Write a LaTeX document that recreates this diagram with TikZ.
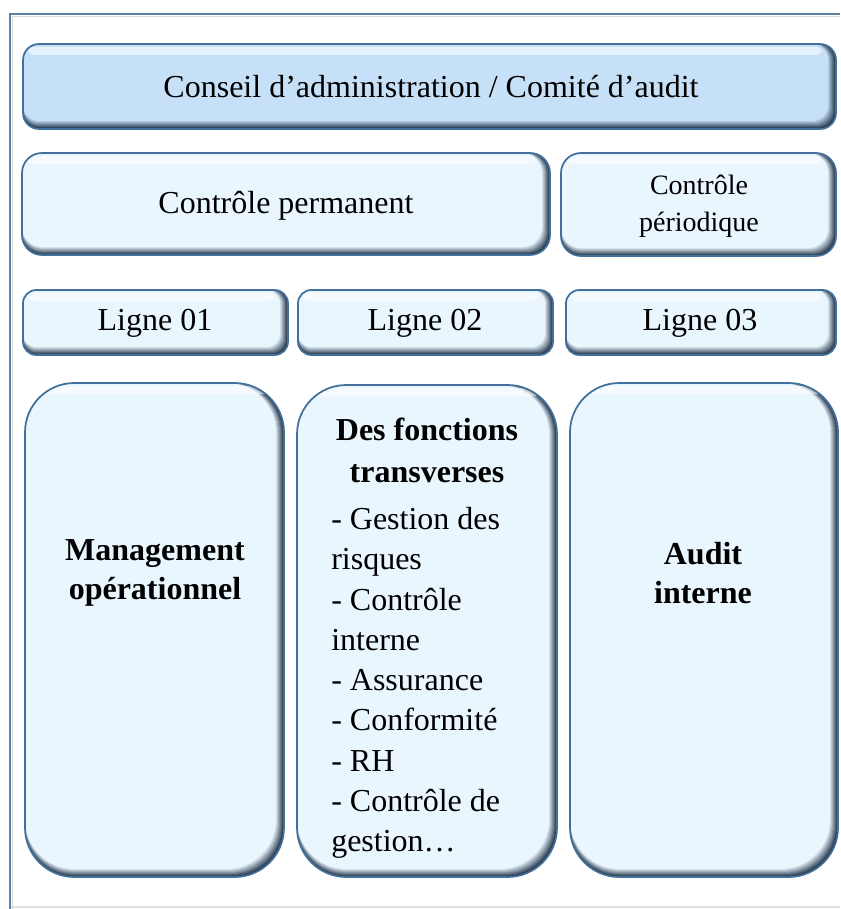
\documentclass[tikz,border=0pt]{standalone}
\usepackage{fontspec}
\setmainfont{Liberation Serif}
\definecolor{edgecol}{HTML}{41709C}
\definecolor{shadowcol}{HTML}{1E3145}
\definecolor{fillpale}{HTML}{EAF6FE}
\definecolor{fillblue}{HTML}{C6E0F8}
\definecolor{framecol}{HTML}{5A82A8}

% bevelled rounded box: x1, y1, x2, y2, corner radius (pt), fill colour
\newcommand\bevbox[6]{%
  \foreach \k in {0,...,8}{%
    \pgfmathsetmacro\pct{\k*100/8}%
    \fill[fill=#6!\pct!shadowcol, rounded corners=#5]
      (#1,#2) rectangle ({#3-\k},{#4-\k});
  }%
  \fill[white, opacity=.55, rounded corners=4pt]
    ({#1+5},{#2+3}) rectangle ({#3-14},{#2+11});
  \draw[edgecol, line width=1.3pt, rounded corners=#5]
    (#1,#2) rectangle (#3,#4);
}

\tikzset{
  lbl/.style={font=\fontsize{24}{29.8}\selectfont, align=center, inner sep=0pt},
  lblsmall/.style={font=\fontsize{21}{27.5}\selectfont, align=center, inner sep=0pt},
  lblbold/.style={font=\fontsize{24}{29.8}\selectfont\bfseries, align=center, inner sep=0pt},
  lbltitle/.style={font=\fontsize{24}{31.5}\selectfont\bfseries, align=center, inner sep=0pt},
  lbllist/.style={font=\fontsize{24}{30.2}\selectfont, align=left, inner sep=0pt},
}

\begin{document}
\begin{tikzpicture}[x=0.75pt,y=-0.75pt]
\useasboundingbox (0,0) rectangle (840,909);
\fill[white] (0,0) rectangle (840,909);

% outer frame
\draw[black!12, line width=1pt] (10,907) -- (840,907);
\draw[framecol, line width=1.5pt] (10,909) -- (10,14) -- (840,14);
\draw[black!15, line width=1pt] (12.5,909) -- (12.5,16.5) -- (840,16.5);

% top row
\bevbox{23}{44}{836}{129}{12pt}{fillblue}
% second row
\bevbox{22}{153}{550}{255}{15pt}{fillpale}
\bevbox{561}{153}{836}{256}{15pt}{fillpale}
% line headers
\bevbox{23}{290}{288}{355}{10pt}{fillpale}
\bevbox{298}{290}{553}{355}{10pt}{fillpale}
\bevbox{566}{290}{836}{355}{10pt}{fillpale}
% columns
\bevbox{25}{383}{284}{877}{37pt}{fillpale}
\bevbox{297}{385}{557}{877}{37pt}{fillpale}
\bevbox{570}{383}{838}{877}{37pt}{fillpale}

\node[lbl] (conseil) at (431,87) {Conseil d’administration / Comité d’audit};
\node[lbl] (permanent) at (286,206) {Contrôle permanent};
\node[lblsmall] (periodique) at (699,206) {Contrôle\\périodique};
\node[lbl] (ligne1) at (155,323) {Ligne 01};
\node[lbl] (ligne2) at (425,323) {Ligne 02};
\node[lbl] (ligne3) at (700,323) {Ligne 03};
\node[lblbold] (mgmt) at (155,573) {Management\\opérationnel};
\node[lbltitle] (transv) at (427,450) {Des fonctions\\transverses};
\node[lbllist, anchor=north west] (liste) at (331,507) {- Gestion des\\risques\\- Contrôle\\interne\\- Assurance\\- Conformité\\- RH\\- Contrôle de\\gestion…};
\node[lblbold] (audit) at (703,573) {Audit\\interne};
\end{tikzpicture}
\end{document}
